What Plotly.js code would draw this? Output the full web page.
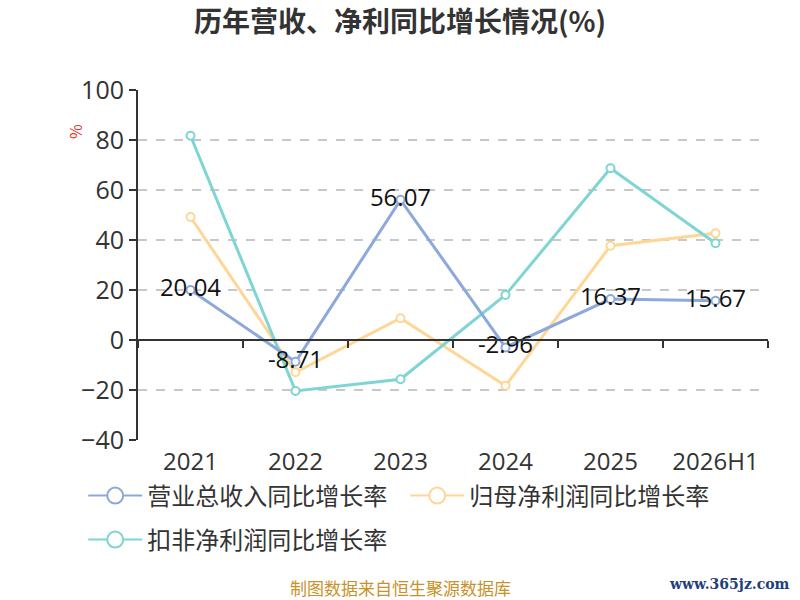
<!DOCTYPE html>
<html>
<head>
<meta charset="utf-8">
<script src="https://cdn.plot.ly/plotly-3.0.1.min.js"></script>
<style>
  html, body { margin: 0; padding: 0; background: #fff; }
  #plot1 { width: 800px; height: 600px; }
</style>
</head>
<body>
<div id="plot1"></div>
<script>
// categories and series
const years = ['2021', '2022', '2023', '2024', '2025', '2026H1'];
const revenueGrowth = [20.04, -8.71, 56.07, -2.96, 16.37, 15.67];
const netProfitGrowth = [49.2, -12.9, 8.7, -18.3, 37.7, 42.7];
const deductedProfitGrowth = [81.7, -20.4, -15.7, 18.0, 68.7, 38.7];
const seriesNames = ['营业总收入同比增长率', '归母净利润同比增长率', '扣非净利润同比增长率'];
const yTicks = [-40, -20, 0, 20, 40, 60, 80, 100];

const fontMain = '"Open Sans", "Noto Sans CJK SC", sans-serif';
const fontCJK = '"Noto Sans CJK SC", "Noto Sans", sans-serif';
const colors = ['#8DA9DB', '#FFD696', '#7FD4D4'];

function lineTrace(yValues, name, color, withText) {
  let trace = {
    x: years,
    y: yValues,
    name: name,
    type: 'scatter',
    mode: withText ? 'lines+markers+text' : 'lines+markers',
    line: { color: color, width: 3 },
    marker: { symbol: 'circle', size: 8, color: '#ffffff', line: { color: color, width: 2 } },
    cliponaxis: false,
    showlegend: false,
    hoverinfo: 'x+y',
  };
  if (withText) {
    trace.text = yValues.map(v => v.toFixed(2));
    trace.textposition = 'middle center';
    trace.textfont = { family: fontMain, size: 24, color: '#111111' };
  }
  return trace;
}

// legend-only entries, with the big hollow circle of the picture
function legendTrace(name, color, legendId) {
  return {
    x: [null], y: [null],
    name: name,
    type: 'scatter',
    mode: 'lines+markers',
    line: { color: color, width: 2 },
    marker: { symbol: 'circle', size: 22, color: '#ffffff', line: { color: color, width: 2 } },
    legend: legendId,
    hoverinfo: 'skip',
  };
}

const dataTemp = [
  lineTrace(netProfitGrowth, seriesNames[1], colors[1], false),
  lineTrace(deductedProfitGrowth, seriesNames[2], colors[2], false),
  lineTrace(revenueGrowth, seriesNames[0], colors[0], true),
  legendTrace(seriesNames[0], colors[0], 'legend'),
  legendTrace(seriesNames[1], colors[1], 'legend2'),
  legendTrace(seriesNames[2], colors[2], 'legend3'),
];

// invisible trace to carry the zero-line axis
dataTemp.push({
  x: years, y: revenueGrowth, xaxis: 'x2', yaxis: 'y',
  type: 'scatter', mode: 'none', showlegend: false, hoverinfo: 'skip',
});

function legendBox(x, y) {
  return {
    orientation: 'h',
    xref: 'container', yref: 'container',
    x: x, xanchor: 'left',
    y: y, yanchor: 'middle',
    itemwidth: 54,
    bgcolor: 'rgba(0,0,0,0)',
    font: { family: fontCJK, size: 24, color: '#333333' },
  };
}

// pixel -> paper helpers for the notes under the chart (plot area 138..768 x 90..440)
const px = v => (v - 138) / 630;
const py = v => (440 - v) / 350;

const layoutLine = {
  width: 800,
  height: 600,
  margin: { l: 138, r: 32, t: 90, b: 160 },
  paper_bgcolor: '#ffffff',
  plot_bgcolor: '#ffffff',
  font: { family: fontMain, color: '#333333' },
  title: {
    text: '<b>历年营收、净利同比增长情况(%)</b>',
    x: 0.5, xanchor: 'center',
    y: 0.963, yanchor: 'middle',
    font: { family: fontCJK, size: 28, color: '#333333' },
  },
  xaxis: {
    type: 'category',
    showline: false,
    showgrid: false,
    zeroline: false,
    ticks: '',
    ticklabelstandoff: 5,
    tickfont: { family: fontMain, size: 24, color: '#333333' },
    range: [-0.5, 5.5],
    fixedrange: true,
  },
  // black axis line drawn at y = 0 with ticks between categories
  xaxis2: {
    type: 'category',
    overlaying: 'x',
    matches: 'x',
    anchor: 'free',
    position: 40 / 140,
    side: 'bottom',
    showline: true,
    linecolor: '#333333',
    linewidth: 2,
    ticks: 'outside',
    tickson: 'boundaries',
    ticklen: 7,
    tickwidth: 2,
    tickcolor: '#333333',
    showticklabels: false,
    showgrid: false,
    zeroline: false,
  },
  yaxis: {
    range: [-40, 100],
    tickvals: yTicks,
    showline: true,
    linecolor: '#333333',
    linewidth: 2,
    ticks: 'outside',
    ticklen: 7,
    tickwidth: 2,
    tickcolor: '#333333',
    tickfont: { family: fontMain, size: 25, color: '#333333' },
    showgrid: true,
    gridcolor: '#c8c8c8',
    gridwidth: 1.5,
    griddash: 'dash',
    zeroline: false,
    fixedrange: true,
  },
  showlegend: true,
  legend: legendBox(0.104, 1 - 496 / 600),
  legend2: legendBox(0.104 + 322 / 800, 1 - 496 / 600),
  legend3: legendBox(0.104, 1 - 540 / 600),
  annotations: [
    {
      text: '%', textangle: -90,
      xref: 'paper', yref: 'paper', x: px(75), y: py(132),
      xanchor: 'center', yanchor: 'middle',
      showarrow: false,
      font: { family: fontCJK, size: 16, color: '#e8312f' },
    },
    {
      text: '制图数据来自恒生聚源数据库',
      xref: 'paper', yref: 'paper', x: px(400), y: py(587),
      xanchor: 'center', yanchor: 'middle', showarrow: false,
      font: { family: fontCJK, size: 17, color: '#c8922a' },
    },
    {
      text: '<b>www.365jz.com</b>',
      xref: 'paper', yref: 'paper', x: px(792), y: py(584),
      xanchor: 'right', yanchor: 'middle', showarrow: false,
      font: { family: '"DejaVu Serif", "Liberation Serif", serif', size: 14, color: '#1f3f7a' },
    },
  ],
};

Plotly.newPlot('plot1', dataTemp, layoutLine, { displayModeBar: false, staticPlot: true });
</script>
</body>
</html>
